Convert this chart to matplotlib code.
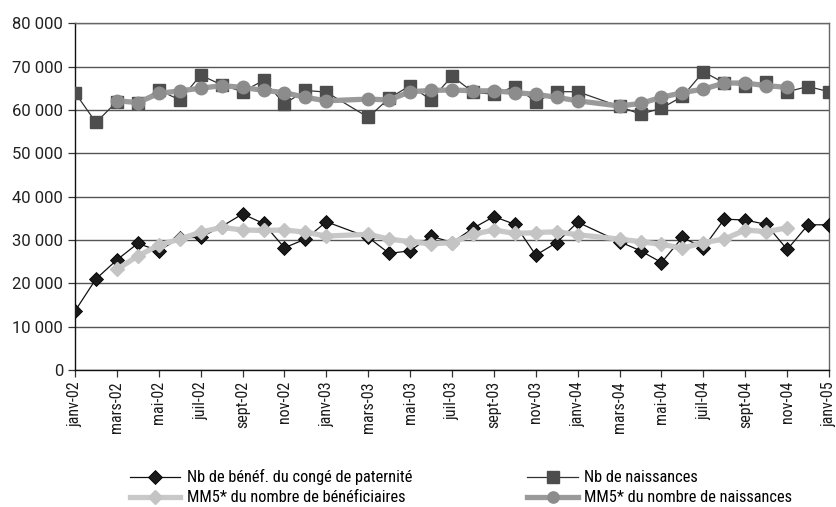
import numpy as np
import matplotlib
matplotlib.use("Agg")
import matplotlib.pyplot as plt
from matplotlib import font_manager

# pick a condensed face explicitly, so the choice does not vary between runs
installed = {f.name for f in font_manager.fontManager.ttflist}
narrow = next((n for n in ['Roboto Condensed', 'Liberation Sans Narrow',
                           'PT Sans Narrow', 'Archivo Narrow']
               if n in installed), 'DejaVu Sans')
plt.rcParams['font.family'] = [narrow, 'DejaVu Sans']

# months janv-02 .. janv-05 (37 months); fevr-03 and fevr-04 missing
months = np.arange(37)
tick_labels = ['janv-02', 'mars-02', 'mai-02', 'juil-02', 'sept-02', 'nov-02',
               'janv-03', 'mars-03', 'mai-03', 'juil-03', 'sept-03', 'nov-03',
               'janv-04', 'mars-04', 'mai-04', 'juil-04', 'sept-04', 'nov-04',
               'janv-05']

N = np.nan
benef = [13600, 21000, 25400, 29200, 27500, 30500, 30600, 33100, 36000, 33800,
         28200, 30200, 34200, N, 30600, 26900, 27500, 30900, 29400, 32700,
         35400, 33600, 26500, 29400, 34100, N, 29600, 27500, 24800, 30600,
         28200, 34800, 34600, 33600, 27800, 33500, 33500]
naiss = [64000, 57100, 61900, 61600, 64600, 62300, 68000, 65800, 64200, 66800,
         61400, 64500, 64100, N, 58300, 62700, 65600, 62300, 67800, 64100,
         63600, 65400, 61900, 64200, 64200, N, 60800, 59000, 60400, 63100,
         68800, 66200, 65600, 66500, 64200, 65400, 64200]
mm5_benef = [N, N, 23200, 26300, 28800, 30200, 31800, 32900, 32300, 32200,
             32300, 31800, 30900, N, 31300, 30200, 29600, 29100, 29400, 31300,
             32300, 31500, 31700, 31900, 31200, N, 30200, 29600, 29000, 28100,
             29400, 30200, 32300, 31900, 32800, N, N]
mm5_naiss = [N, N, 62100, 61700, 63800, 64400, 65000, 65600, 65200, 64500,
             64000, 62900, 62100, N, 62500, 62300, 64200, 64500, 64600, 64400,
             64400, 64000, 63600, 62900, 62100, N, 60900, 61500, 62900, 64000,
             64800, 66200, 66200, 65600, 65200, N, N]


def valid(vals):
    v = np.array(vals, dtype=float)
    m = ~np.isnan(v)
    return months[m], v[m]


fig = plt.figure(figsize=(8.36, 5.07), dpi=100)
ax = fig.add_axes([0.0897, 0.2702, 0.902, 0.684])

x, y = valid(benef)
h1, = ax.plot(x, y, color='#111111', lw=0.9, marker='D', ms=7.5,
              mfc='#1a1a1a', mec='#000000', mew=0.6, zorder=3,
              label='Nb de bénéf. du congé de paternité')
x, y = valid(naiss)
h2, = ax.plot(x, y, color='#333333', lw=0.9, marker='s', ms=9,
              mfc='#4d4d4d', mec='#4d4d4d', zorder=3,
              label='Nb de naissances')
x, y = valid(mm5_benef)
h3, = ax.plot(x, y, color='#c8c8c8', lw=3.8, marker='D', ms=7.5,
              mfc='#c4c4c4', mec='#c4c4c4', zorder=4,
              label='MM5* du nombre de bénéficiaires')
x, y = valid(mm5_naiss)
h4, = ax.plot(x, y, color='#9a9a9a', lw=3.8, marker='o', ms=9,
              mfc='#8c8c8c', mec='#8c8c8c', zorder=4,
              label='MM5* du nombre de naissances')

ax.set_xlim(0, 36)
ax.set_ylim(0, 80000)
ax.set_xticks(np.arange(0, 37, 2))
ax.set_xticklabels(tick_labels, rotation=90, fontsize=11.5, color='#1a1a1a')
yt = np.arange(0, 80001, 10000)
ax.set_yticks(yt)
ax.set_yticklabels([f"{v:,}".replace(",", " ") for v in yt], fontsize=12,
                   color='#222222', family=['Roboto', 'DejaVu Sans'])
ax.tick_params(axis='both', direction='out', length=5, width=0.9,
               color='#333333')
ax.tick_params(axis='x', pad=3)

ax.grid(axis='y', color='#555555', lw=1.0, zorder=0)
ax.set_axisbelow(True)
ax.spines['left'].set_color('#111111')
ax.spines['bottom'].set_color('#111111')
ax.spines['top'].set_color('#666666')
ax.spines['right'].set_color('#666666')
for s in ax.spines.values():
    s.set_linewidth(1.0)

fig.legend(handles=[h1, h3, h2, h4], ncol=2, loc='lower left',
           bbox_to_anchor=(128 / 836, 0.0), frameon=False, fontsize=11.8,
           handlelength=3.1, columnspacing=7.0, handletextpad=0.4,
           labelspacing=0.3, borderpad=0.1, borderaxespad=0,
           markerscale=0.9)

fig.savefig('out.png', dpi=100)
